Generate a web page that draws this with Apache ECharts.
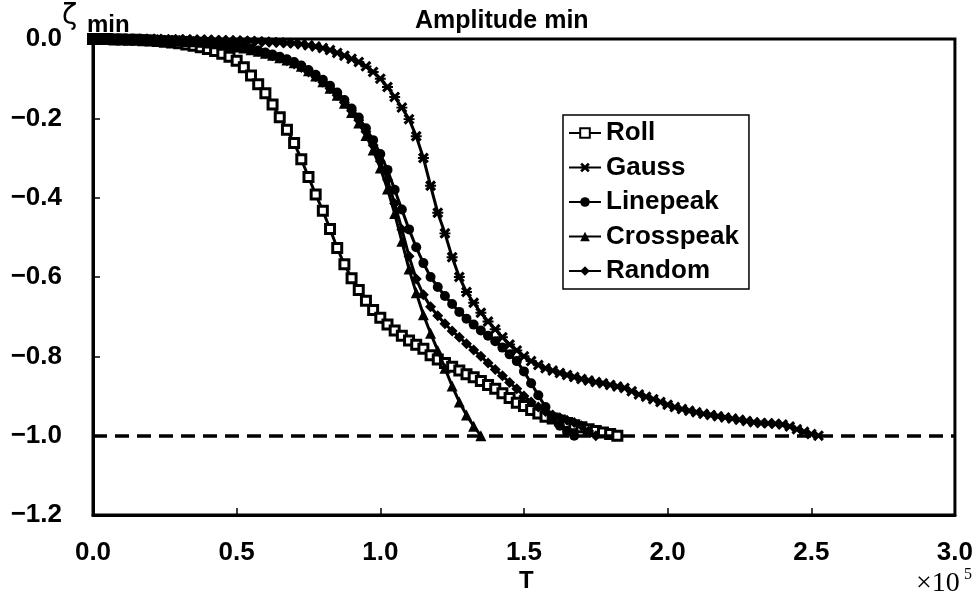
<!DOCTYPE html>
<html>
<head>
<meta charset="utf-8">
<script src="https://cdn.jsdelivr.net/npm/echarts@6/dist/echarts.min.js"></script>
<style>
html,body{margin:0;padding:0;background:#fff;}
#chart{width:976px;height:597px;}
</style>
</head>
<body>
<div id="chart"></div>
<script>
// T in units of 1e5
var T = [0,0.025,0.05,0.075,0.1,0.125,0.15,0.175,0.2,0.225,
0.25,0.275,0.3,0.325,0.35,0.375,0.4,0.425,0.45,0.475,
0.5,0.525,0.55,0.575,0.6,0.625,0.65,0.675,0.7,0.725,
0.75,0.775,0.8,0.825,0.85,0.875,0.9,0.925,0.95,0.975,
1.0,1.025,1.05,1.075,1.1,1.125,1.15,1.175,1.2,1.225,
1.25,1.275,1.3,1.325,1.35,1.375,1.4,1.425,1.45,1.475,
1.5,1.525,1.55,1.575,1.6,1.625,1.65,1.675,1.7,1.725,
1.75,1.775,1.8,1.825,1.85,1.875,1.9,1.925,1.95,1.975,
2.0,2.025,2.05,2.075,2.1,2.125,2.15,2.175,2.2,2.225,
2.25,2.275,2.3,2.325,2.35,2.375,2.4,2.425,2.45,2.475,
2.5,2.525];

var roll = [0,0,0,-0.001,-0.001,-0.002,-0.002,-0.003,-0.004,-0.005,
-0.007,-0.009,-0.011,-0.014,-0.017,-0.021,-0.025,-0.030,-0.037,-0.045,
-0.055,-0.071,-0.092,-0.114,-0.137,-0.165,-0.197,-0.229,-0.262,-0.303,
-0.348,-0.392,-0.433,-0.479,-0.527,-0.568,-0.603,-0.633,-0.660,-0.683,
-0.703,-0.720,-0.735,-0.748,-0.760,-0.771,-0.781,-0.797,-0.808,-0.817,
-0.826,-0.836,-0.845,-0.853,-0.862,-0.872,-0.882,-0.893,-0.905,-0.917,
-0.925,-0.935,-0.944,-0.952,-0.957,-0.962,-0.968,-0.974,-0.979,-0.984,
-0.988,-0.992,-0.996,-1.0];

var gauss = [0,0,0,0,0,0,0,0,0,0,
-0.001,-0.001,-0.001,-0.001,-0.002,-0.002,-0.002,-0.003,-0.003,-0.004,
-0.004,-0.005,-0.005,-0.006,-0.007,-0.008,-0.009,-0.010,-0.011,-0.013,
-0.016,-0.019,-0.023,-0.028,-0.035,-0.042,-0.050,-0.058,-0.069,-0.083,
-0.100,-0.121,-0.146,-0.173,-0.202,-0.245,-0.300,-0.370,-0.438,-0.490,
-0.550,-0.600,-0.638,-0.665,-0.690,-0.712,-0.732,-0.752,-0.770,-0.785,
-0.800,-0.812,-0.822,-0.830,-0.836,-0.842,-0.847,-0.852,-0.857,-0.861,
-0.865,-0.868,-0.872,-0.876,-0.880,-0.888,-0.896,-0.902,-0.908,-0.915,
-0.922,-0.928,-0.933,-0.937,-0.941,-0.945,-0.948,-0.951,-0.954,-0.957,
-0.960,-0.963,-0.966,-0.968,-0.969,-0.970,-0.972,-0.977,-0.984,-0.990,
-0.996,-1.0];

var linepeak = [0,0,0,0,0,-0.001,-0.001,-0.001,-0.002,-0.002,
-0.003,-0.003,-0.004,-0.005,-0.006,-0.007,-0.009,-0.011,-0.013,-0.015,
-0.018,-0.021,-0.025,-0.029,-0.034,-0.039,-0.045,-0.051,-0.058,-0.067,
-0.078,-0.090,-0.103,-0.118,-0.135,-0.154,-0.175,-0.198,-0.225,-0.255,
-0.290,-0.330,-0.380,-0.430,-0.480,-0.525,-0.565,-0.600,-0.625,-0.648,
-0.668,-0.688,-0.705,-0.720,-0.735,-0.748,-0.762,-0.778,-0.795,-0.812,
-0.838,-0.868,-0.898,-0.928,-0.955,-0.975,-0.990,-1.0];

var crosspeak = [0,0,0,0,0,-0.001,-0.001,-0.001,-0.002,-0.002,
-0.003,-0.004,-0.005,-0.006,-0.007,-0.008,-0.010,-0.012,-0.014,-0.017,
-0.020,-0.023,-0.027,-0.031,-0.036,-0.041,-0.047,-0.053,-0.060,-0.069,
-0.080,-0.093,-0.108,-0.124,-0.142,-0.162,-0.185,-0.212,-0.243,-0.280,
-0.325,-0.378,-0.440,-0.510,-0.580,-0.640,-0.695,-0.742,-0.785,-0.830,
-0.875,-0.915,-0.948,-0.976,-1.0];

var random = [0,0,0,0,0,-0.001,-0.001,-0.001,-0.002,-0.002,
-0.003,-0.003,-0.004,-0.005,-0.006,-0.008,-0.009,-0.011,-0.013,-0.016,
-0.019,-0.022,-0.026,-0.031,-0.036,-0.042,-0.048,-0.055,-0.063,-0.072,
-0.083,-0.095,-0.109,-0.125,-0.142,-0.160,-0.181,-0.205,-0.234,-0.268,
-0.308,-0.355,-0.415,-0.480,-0.548,-0.605,-0.645,-0.675,-0.698,-0.718,
-0.736,-0.752,-0.768,-0.784,-0.800,-0.817,-0.833,-0.849,-0.866,-0.882,
-0.900,-0.915,-0.928,-0.939,-0.948,-0.955,-0.961,-0.967,-0.975,-0.988,
-1.0];

var seriesNames = ['Roll','Gauss','Linepeak','Crosspeak','Random'];
var seriesValues = [roll, gauss, linepeak, crosspeak, random];
var xTicks = {min:0, max:3, interval:0.5};
var yTicks = {min:-1.2, max:0, interval:0.2};
var refLine = -1.0;

var FONT = '"Liberation Sans", Arial, sans-serif';

function pairs(ys){
  var out=[];
  for(var i=0;i<ys.length;i++){ out.push([T[i], ys[i]]); }
  return out;
}

var gaussSym = 'path://M0,2L2,0L5,3L8,0L10,2L7,5L10,8L8,10L5,7L2,10L0,8L3,5Z M0,4.1L10,4.1L10,5.9L0,5.9Z';

var symbolStyles = [
  {symbol:'rect', size:9, item:{color:'#fff', borderColor:'#000', borderWidth:3}},
  {symbol:gaussSym, size:11, item:{color:'#000'}},
  {symbol:'circle', size:10, item:{color:'#000'}},
  {symbol:'triangle', size:11, item:{color:'#000'}},
  {symbol:'diamond', size:11, item:{color:'#000'}}
];

var series = seriesNames.map(function(n, i){
  var s = {
    name:n, type:'line', data:pairs(seriesValues[i]),
    symbol:symbolStyles[i].symbol, symbolSize:symbolStyles[i].size,
    showSymbol:true, showAllSymbol:true,
    itemStyle:symbolStyles[i].item,
    lineStyle:{color:'#000', width:3},
    z: 3 + i
  };
  if(i===0){
    s.markLine = {
      silent:true, symbol:['none','none'], label:{show:false},
      lineStyle:{color:'#000', type:[14,8], width:3.5},
      data:[{yAxis:refLine}]
    };
  }
  return s;
});

var chart = echarts.init(document.getElementById('chart'), null, {renderer:'canvas'});
chart.setOption({
  animation:false,
  backgroundColor:'#fff',
  grid:{left:93, right:13, top:39, bottom:82, show:true, borderColor:'#000', borderWidth:3, backgroundColor:'transparent'},
  xAxis:{
    type:'value', min:xTicks.min, max:xTicks.max, interval:xTicks.interval,
    axisLine:{show:true, onZero:false, lineStyle:{color:'#000', width:3}},
    axisTick:{show:true, inside:true, length:7, lineStyle:{color:'#000', width:1.5}},
    splitLine:{show:false},
    axisLabel:{color:'#000', fontSize:26, fontWeight:'bold', fontFamily:FONT, margin:25,
      formatter:function(v){return v.toFixed(1);}}
  },
  yAxis:{
    type:'value', min:yTicks.min, max:yTicks.max, interval:yTicks.interval,
    axisLine:{show:true, onZero:false, lineStyle:{color:'#000', width:3}},
    axisTick:{show:true, inside:true, length:7, lineStyle:{color:'#000', width:1.5}},
    splitLine:{show:false},
    axisLabel:{color:'#000', fontSize:26, fontWeight:'bold', fontFamily:FONT, margin:31,
      formatter:function(v){ var a=Math.abs(v).toFixed(1); return (v<-1e-9?'\u2212':'')+a; }}
  },
  legend:{
    orient:'vertical', left:563, top:115,
    padding:[5,10,5,5], itemGap:8.5, itemWidth:32, itemHeight:12,
    borderColor:'#000', borderWidth:1.5, backgroundColor:'#fff',
    textStyle:{color:'#000', fontSize:26, fontWeight:'bold', fontFamily:FONT, lineHeight:26},
    data:seriesNames
  },
  graphic:[
    {type:'text', left:415, top:9, style:{text:'Amplitude min', fill:'#000', font:'bold 25px '+FONT}},
    {type:'text', left:62, top:3, style:{text:'\u03B6', fill:'#000', font:'28px "DejaVu Sans", sans-serif'}},
    {type:'text', left:87, top:13, style:{text:'min', fill:'#000', font:'bold 24px '+FONT}},
    {type:'text', left:519, top:569, style:{text:'T', fill:'#000', font:'bold 24px '+FONT}},
    {type:'text', left:916, top:570, style:{text:'\u00D710', fill:'#000', font:'28px "Liberation Serif", "Times New Roman", serif'}},
    {type:'text', left:964, top:567, style:{text:'5', fill:'#000', font:'16px "Liberation Serif", "Times New Roman", serif'}}
  ],
  series:series
});
</script>
</body>
</html>
